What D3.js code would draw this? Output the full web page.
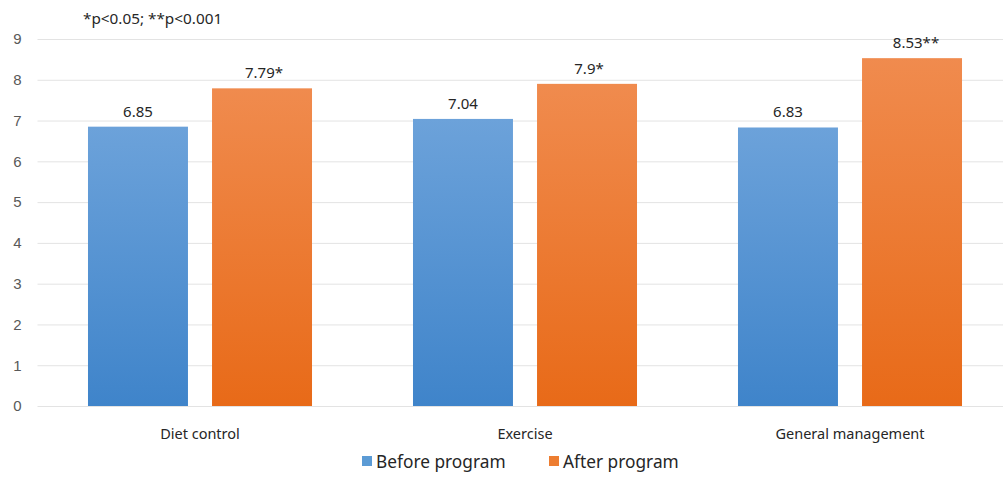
<!DOCTYPE html>
<html>
<head>
<meta charset="utf-8">
<script src="https://cdn.jsdelivr.net/npm/d3@7"></script>
<style>
  html, body { margin: 0; padding: 0; background: #fff; }
  svg { display: block; font-family: "Noto Sans", "Open Sans", sans-serif; }
</style>
</head>
<body>
<svg id="chart" width="1003" height="478"></svg>
<script>
// Scores before and after the program, by area
const categories = ["Diet control", "Exercise", "General management"];
const seriesNames = ["Before program", "After program"];
const beforeValues = [6.85, 7.04, 6.83];
const afterValues = [7.79, 7.9, 8.53];
const afterMarks = ["*", "*", "**"];
const yTicks = [0, 1, 2, 3, 4, 5, 6, 7, 8, 9];
const note = "*p<0.05; **p<0.001";

const svg = d3.select("#chart");
const W = 1003, H = 478;
const margin = { top: 39, right: -9.5, bottom: 72, left: 37.5 };
const y0 = H - margin.bottom;

const x = d3.scaleBand().domain(categories).range([margin.left, W - margin.right]).paddingInner(0).paddingOuter(0);
const xs = d3.scaleBand().domain(seriesNames).range([0, x.bandwidth()]).paddingInner(0.194).paddingOuter(0.407);
const y = d3.scaleLinear().domain([0, 9]).range([y0, margin.top]);

// Gradients for the two series
const defs = svg.append("defs");
const grads = [
  { id: "g-before", top: "#6ca2da", bottom: "#3f84ca" },
  { id: "g-after", top: "#f08b4e", bottom: "#e86a18" }
];
grads.forEach(g => {
  const lg = defs.append("linearGradient").attr("id", g.id)
    .attr("x1", 0).attr("y1", 0).attr("x2", 0).attr("y2", 1);
  lg.append("stop").attr("offset", "0%").attr("stop-color", g.top);
  lg.append("stop").attr("offset", "100%").attr("stop-color", g.bottom);
});
const fills = { "Before program": "#5b9bd5", "After program": "#ed7d31" };
const fillUrls = { "Before program": "url(#g-before)", "After program": "url(#g-after)" };

// Horizontal gridlines
const yAxis = d3.axisLeft(y).tickValues(yTicks).tickSize(-(W - margin.left)).tickPadding(14);
const gy = svg.append("g").attr("transform", `translate(${margin.left},0)`).call(yAxis);
gy.select(".domain").remove();
gy.selectAll(".tick line").attr("stroke", "#e3e3e3").attr("stroke-width", 1);
gy.selectAll(".tick text").attr("fill", "#595959").style("font-size", "15px")
  .attr("text-anchor", "middle").attr("x", -20);

// Bars
const rows = categories.map((c, i) => ({
  cat: c,
  items: [
    { s: seriesNames[0], v: beforeValues[i], label: String(beforeValues[i]) },
    { s: seriesNames[1], v: afterValues[i], label: afterValues[i] + afterMarks[i] }
  ]
}));

const groups = svg.append("g").selectAll("g").data(rows).join("g")
  .attr("transform", d => `translate(${x(d.cat)},0)`);

groups.selectAll("rect").data(d => d.items).join("rect")
  .attr("x", d => xs(d.s))
  .attr("width", xs.bandwidth())
  .attr("y", d => y(d.v))
  .attr("height", d => y0 - y(d.v))
  .attr("fill", d => fillUrls[d.s]);

groups.selectAll("text.val").data(d => d.items).join("text")
  .attr("class", "val")
  .attr("x", d => xs(d.s) + xs.bandwidth() / 2 + (d.label.includes("*") ? (d.label.endsWith("**") ? 4 : 2) : 0))
  .attr("y", d => y(d.v) - 10)
  .attr("text-anchor", "middle")
  .attr("fill", "#262626")
  .style("font-size", "15px")
  .text(d => d.label);

// Category axis labels
svg.append("g").selectAll("text").data(categories).join("text")
  .attr("x", d => x(d) + x.bandwidth() / 2)
  .attr("y", y0 + 33)
  .attr("text-anchor", "middle")
  .attr("fill", "#262626")
  .style("font-size", "14.5px")
  .text(d => d);

// Significance note
svg.append("text").attr("x", 83).attr("y", 24)
  .attr("fill", "#262626").style("font-size", "15.3px").text(note);

// Legend
const legend = svg.append("g").attr("transform", "translate(362,468)");
const legendX = [0, 187];
seriesNames.forEach((s, i) => {
  const g = legend.append("g").attr("transform", `translate(${legendX[i]},0)`);
  g.append("rect").attr("x", 0).attr("y", -12).attr("width", 10).attr("height", 10).attr("fill", fills[s]);
  g.append("text").attr("x", 14).attr("y", 0).attr("fill", "#262626").style("font-size", "17.3px").text(s);
});
</script>
</body>
</html>
